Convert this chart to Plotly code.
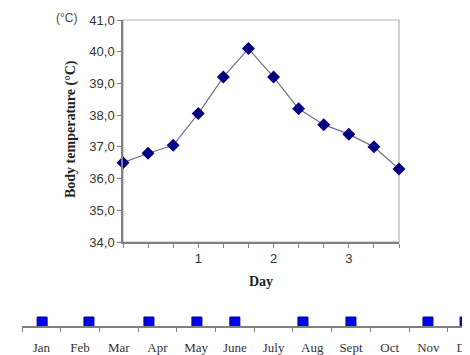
import plotly.graph_objects as go

# ---- data ----
day = [0, 1/3, 2/3, 1, 4/3, 5/3, 2, 7/3, 8/3, 3, 10/3, 11/3]
temp = [36.5, 36.8, 37.05, 38.05, 39.2, 40.1, 39.2, 38.2, 37.7, 37.4, 37.0, 36.3]
y_tick_vals = [34, 35, 36, 37, 38, 39, 40, 41]
y_tick_text = ["34,0", "35,0", "36,0", "37,0", "38,0", "39,0", "40,0", "41,0"]
x_minor_ticks = [0, 1/3, 2/3, 1, 4/3, 5/3, 2, 7/3, 8/3, 3, 10/3, 11/3]
x_tick_labels = ["", "", "", "1", "", "", "2", "", "", "3", "", ""]

months = ["Jan", "Feb", "Mar", "Apr", "May", "June", "July", "Aug", "Sept", "Oct", "Nov", "Dec"]
month_centers = [0.5, 1.5, 2.5, 3.5, 4.5, 5.5, 6.5, 7.5, 8.5, 9.5, 10.5, 11.5]
month_bounds = [0, 1, 2, 3, 4, 5, 6, 7, 8, 9, 10, 11, 12]
event_month = [0.52, 1.73, 3.28, 4.52, 5.5, 7.26, 8.5, 10.49, 11.45]
event_level = [0.4] * len(event_month)

# page has an 8px body margin, so the figure starts at (8, 8) in the window
OFF = 8
W, H = 470, 355
def px_x(p): return (p - OFF) / W
def px_y(p): return 1 - (p - OFF) / H

sans = "Liberation Sans, Arial, sans-serif"
serif = "Liberation Serif, Times New Roman, serif"

fig = go.Figure()

fig.add_trace(go.Scatter(
    x=day, y=temp, mode="lines+markers",
    line=dict(color="#6e6e86", width=1.2),
    marker=dict(symbol="diamond", size=10, color="#000080"),
    xaxis="x", yaxis="y", cliponaxis=False, showlegend=False))

fig.add_trace(go.Scatter(
    x=event_month, y=event_level, mode="markers",
    marker=dict(symbol="square", size=10, color="#0000f0", line=dict(color="#00008b", width=1)),
    xaxis="x2", yaxis="y2", cliponaxis=False, showlegend=False))

# invisible helper trace so the month-label axis is drawn
fig.add_trace(go.Scatter(
    x=month_centers, y=[0.5] * 12, mode="markers", marker=dict(opacity=0),
    xaxis="x3", yaxis="y2", hoverinfo="skip", showlegend=False))

x2_left, x2_right = 22, 470
x2_range = [0, (x2_right - x2_left) / 38.7]

fig.update_layout(
    width=W, height=H, autosize=False,
    margin=dict(l=0, r=0, t=0, b=0, autoexpand=False),
    paper_bgcolor="white", plot_bgcolor="white",
    xaxis=dict(domain=[px_x(123), px_x(399)], range=[0, 11/3], anchor="y",
               tickvals=x_minor_ticks, ticktext=x_tick_labels,
               ticks="outside", ticklen=4, tickcolor="#808080",
               showline=True, linecolor="#808080", linewidth=1.5,
               showgrid=False, zeroline=False, automargin=False,
               tickfont=dict(family=sans, size=13, color="#333333")),
    yaxis=dict(domain=[px_y(242), px_y(20)], range=[34, 41], anchor="x",
               tickvals=y_tick_vals, ticktext=y_tick_text,
               ticks="outside", ticklen=4, tickcolor="#808080",
               showline=True, linecolor="#808080", linewidth=1.5,
               showgrid=False, zeroline=False, automargin=False,
               tickfont=dict(family=sans, size=13, color="#333333")),
    xaxis2=dict(domain=[px_x(x2_left), px_x(x2_right)], range=x2_range, anchor="y2",
                tickvals=month_bounds, showticklabels=False,
                ticks="outside", ticklen=4, tickcolor="#808080",
                showline=True, linecolor="#808080", linewidth=1.5,
                showgrid=False, zeroline=False, automargin=False),
    xaxis3=dict(domain=[px_x(x2_left), px_x(x2_right)], range=x2_range, anchor="y2",
                overlaying="x2", side="bottom",
                tickvals=month_centers, ticktext=months, ticks="",
                ticklabelstandoff=12, ticklabeloverflow="allow",
                showline=False, showgrid=False, zeroline=False, automargin=False,
                tickfont=dict(family=serif, size=13, color="#333333")),
    yaxis2=dict(domain=[px_y(326), px_y(316)], range=[0, 1], anchor="x2",
                visible=False),
    shapes=[dict(type="rect", xref="paper", yref="paper",
                 x0=px_x(123), x1=px_x(399), y0=px_y(242), y1=px_y(20),
                 line=dict(color="#b4b4b4", width=1.2), layer="below")],
    annotations=[
        dict(text="(°C)", x=px_x(66), y=px_y(18), xref="paper", yref="paper",
             xanchor="center", yanchor="middle",
             showarrow=False, font=dict(family=sans, size=12, color="#444444")),
        dict(text="<b>Body temperature (°C)</b>", x=px_x(71), y=px_y(129),
             xref="paper", yref="paper", xanchor="center", yanchor="middle",
             textangle=-90, showarrow=False,
             font=dict(family=serif, size=14, color="#222222")),
        dict(text="<b>Day</b>", x=px_x(261), y=px_y(281), xref="paper", yref="paper",
             xanchor="center", yanchor="middle",
             showarrow=False, font=dict(family=serif, size=14, color="#222222")),
    ],
)

fig.write_html("out.html")
